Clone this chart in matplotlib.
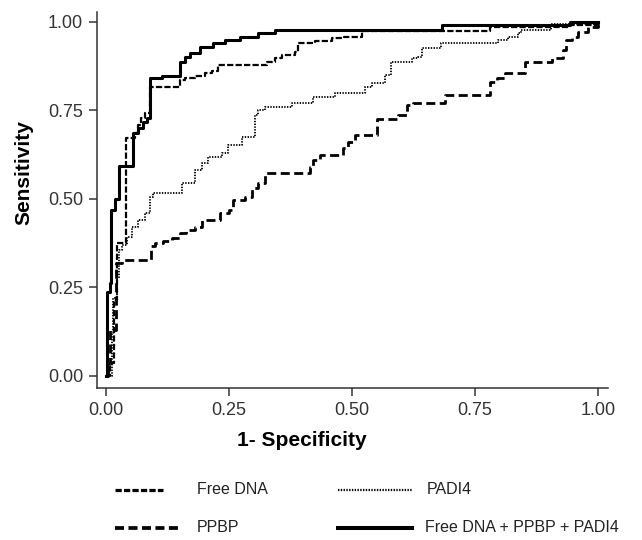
import matplotlib
matplotlib.use("Agg")
import matplotlib.pyplot as plt
from matplotlib.lines import Line2D

plt.rcParams["font.family"] = ["Liberation Sans", "DejaVu Sans"]
plt.rcParams["lines.scale_dashes"] = False

# ROC points (1 - specificity, sensitivity)
free_dna_fpr = [0.0, 0.004, 0.008, 0.016, 0.022, 0.041, 0.059, 0.065, 0.071, 0.079, 0.089,
                0.150, 0.161, 0.181, 0.201, 0.215, 0.228, 0.327, 0.343, 0.358, 0.384, 0.390,
                0.425, 0.459, 0.484, 0.520, 0.780, 0.943, 1.0]
free_dna_tpr = [0.0, 0.0, 0.037, 0.215, 0.376, 0.672, 0.686, 0.709, 0.729, 0.743, 0.816,
                0.836, 0.842, 0.847, 0.856, 0.862, 0.879, 0.887, 0.898, 0.907, 0.915, 0.941,
                0.946, 0.955, 0.958, 0.975, 0.986, 0.992, 1.0]

padi4_fpr = [0.0, 0.012, 0.014, 0.022, 0.026, 0.033, 0.043, 0.053, 0.065, 0.079, 0.089,
             0.096, 0.154, 0.181, 0.195, 0.207, 0.236, 0.248, 0.276, 0.303, 0.309, 0.323,
             0.378, 0.421, 0.465, 0.526, 0.541, 0.567, 0.579, 0.622, 0.634, 0.642, 0.681,
             0.797, 0.817, 0.837, 0.843, 0.904, 1.0]
padi4_tpr = [0.0, 0.121, 0.22, 0.277, 0.356, 0.370, 0.393, 0.421, 0.441, 0.460, 0.506,
             0.517, 0.545, 0.582, 0.602, 0.619, 0.630, 0.653, 0.675, 0.737, 0.751, 0.760,
             0.771, 0.788, 0.799, 0.816, 0.828, 0.850, 0.887, 0.898, 0.901, 0.927, 0.941,
             0.949, 0.958, 0.969, 0.977, 0.994, 1.0]

ppbp_fpr = [0.0, 0.004, 0.008, 0.020, 0.033, 0.091, 0.100, 0.116, 0.134, 0.150, 0.163,
            0.181, 0.195, 0.232, 0.250, 0.258, 0.283, 0.297, 0.309, 0.323, 0.415, 0.421,
            0.435, 0.482, 0.492, 0.506, 0.551, 0.593, 0.612, 0.624, 0.689, 0.780, 0.795,
            0.811, 0.852, 0.907, 0.929, 0.935, 0.947, 0.959, 0.980, 1.0]
ppbp_tpr = [0.0, 0.037, 0.130, 0.319, 0.328, 0.367, 0.376, 0.381, 0.390, 0.404, 0.412,
            0.421, 0.441, 0.460, 0.469, 0.497, 0.506, 0.531, 0.545, 0.573, 0.590, 0.610,
            0.624, 0.644, 0.661, 0.681, 0.726, 0.737, 0.766, 0.771, 0.794, 0.831, 0.842,
            0.856, 0.887, 0.898, 0.921, 0.949, 0.958, 0.972, 0.986, 1.0]

combined_fpr = [0.0, 0.002, 0.008, 0.010, 0.018, 0.026, 0.055, 0.065, 0.075, 0.083, 0.089,
                0.114, 0.150, 0.161, 0.171, 0.191, 0.217, 0.242, 0.272, 0.309, 0.343, 0.683,
                0.943, 1.0]
combined_tpr = [0.0, 0.237, 0.263, 0.469, 0.500, 0.593, 0.686, 0.701, 0.718, 0.729, 0.842,
                0.847, 0.887, 0.901, 0.912, 0.929, 0.941, 0.949, 0.958, 0.969, 0.977, 0.991,
                1.0, 1.0]

x_ticks = [0.0, 0.25, 0.5, 0.75, 1.0]
y_ticks = [0.0, 0.25, 0.5, 0.75, 1.0]

series = [
    ("Free DNA", free_dna_fpr, free_dna_tpr, dict(lw=1.6, ls=(0, (4.5, 1.6)))),
    ("PADI4", padi4_fpr, padi4_tpr, dict(lw=1.3, ls=(0, (1.0, 1.0)))),
    ("PPBP", ppbp_fpr, ppbp_tpr, dict(lw=2.0, ls=(0, (6.5, 3.2)))),
    ("Free DNA + PPBP + PADI4", combined_fpr, combined_tpr, dict(lw=2.2, ls="-")),
]
# the legend samples are drawn a little heavier than the curves
legend_lw = [2.3, 1.6, 2.7, 2.9]

fig = plt.figure(figsize=(6.42, 5.4), dpi=100)
ax = fig.add_axes([0.151, 0.2815, 0.796, 0.6963])

for name, fpr, tpr, style in series:
    ax.plot(fpr, tpr, drawstyle="steps-post", color="black", **style)

ax.set_xlim(-0.0183, 1.0203)
ax.set_ylim(-0.034, 1.028)
ax.set_xticks(x_ticks)
ax.set_yticks(y_ticks)
ax.set_xticklabels([f"{t:.2f}" for t in x_ticks])
ax.set_yticklabels([f"{t:.2f}" for t in y_ticks])
ax.tick_params(direction="out", length=6, width=1.1, labelsize=13, pad=4,
               colors="#333333", labelcolor="#333333")
for side in ["top", "right"]:
    ax.spines[side].set_visible(False)
for side in ["left", "bottom"]:
    ax.spines[side].set_linewidth(1.1)
    ax.spines[side].set_color("#333333")

ax.set_xlabel("1- Specificity", fontsize=15, fontweight="bold")
ax.xaxis.set_label_coords(0.40, -0.115)
ax.set_ylabel("Sensitivity", fontsize=15, fontweight="bold")
ax.yaxis.set_label_coords(-0.125, 0.572)

# legend laid out in two rows below the axes, as in the original
W, H = 642, 540
legend_pos = [(115, 163, 490, 197), (338, 412, 490, 427),
              (115, 182, 528, 197), (338, 412, 528, 425)]
for (name, fpr, tpr, style), lw, (x0, x1, yy, tx) in zip(series, legend_lw, legend_pos):
    fig.add_artist(Line2D([x0 / W, x1 / W], [1 - yy / H, 1 - yy / H],
                          color="black", lw=lw, ls=style["ls"]))
    fig.text(tx / W, 1 - yy / H, name, fontsize=11.5, va="center", ha="left",
             color="#222222")

fig.savefig("out.png", dpi=100)
plt.close(fig)
